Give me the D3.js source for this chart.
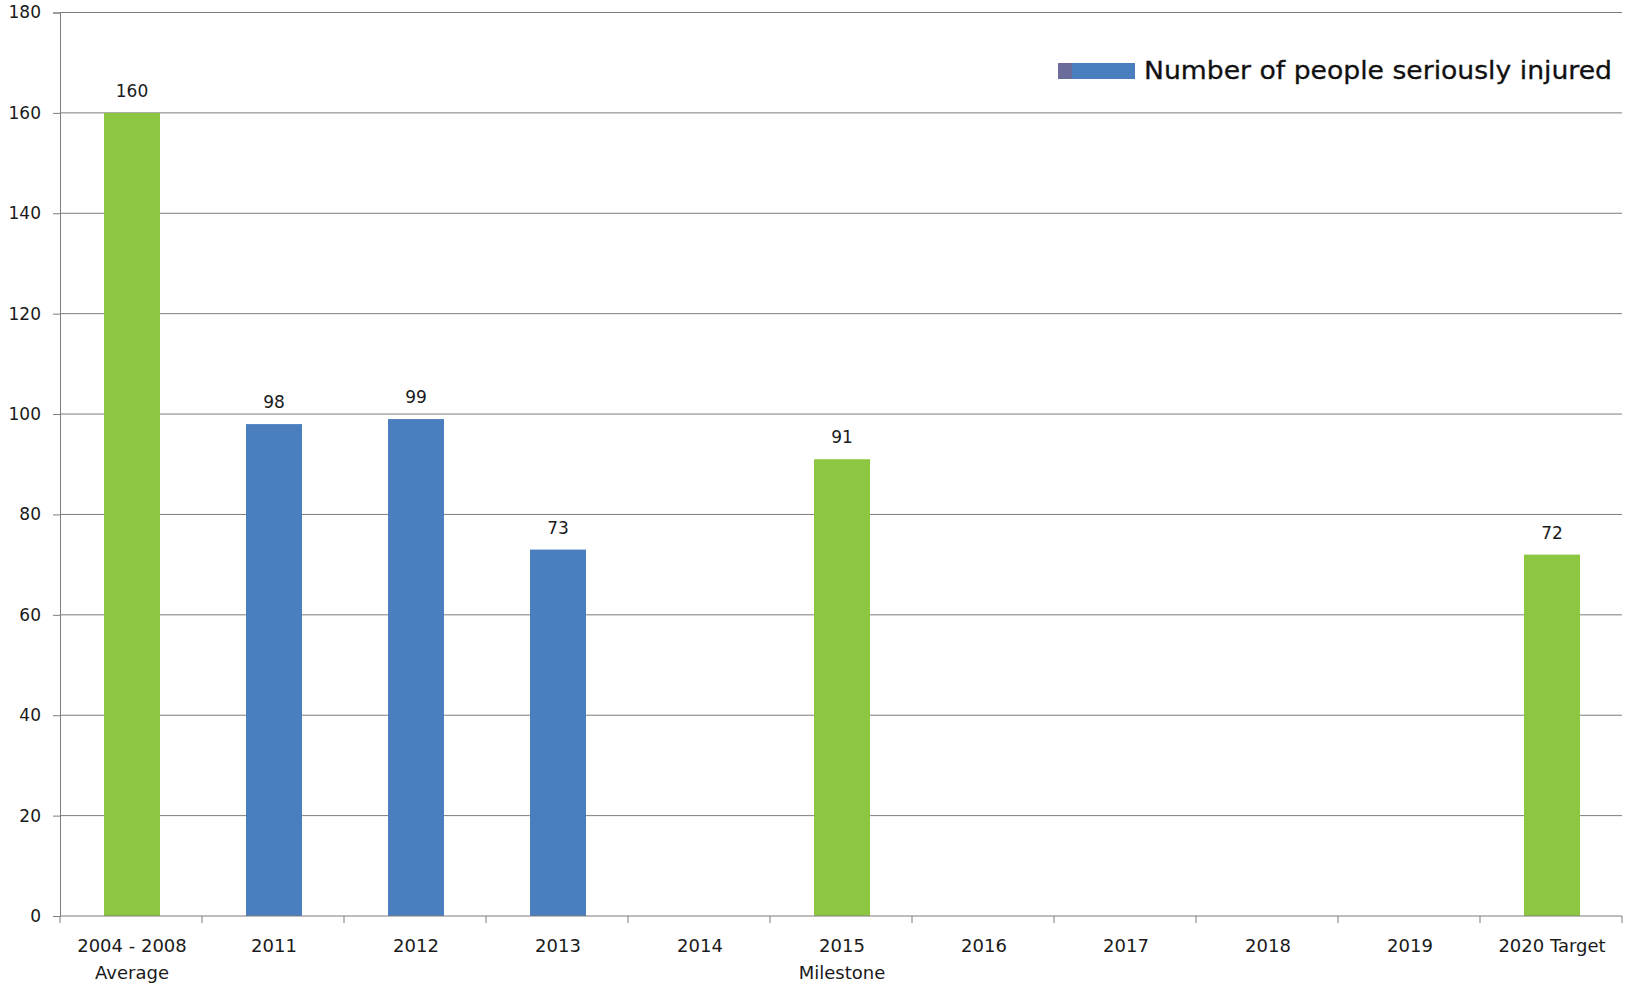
<!DOCTYPE html>
<html>
<head>
<meta charset="utf-8">
<script src="https://cdn.jsdelivr.net/npm/d3@7"></script>
<style>
  body { margin: 0; background: #fff; }
  svg text { font-family: "DejaVu Sans", sans-serif; fill: #1a1a1a; }
</style>
</head>
<body>
<svg id="chart"></svg>
<script>
(function () {
  'use strict';

  // chart data
  var categories = ['2004 - 2008\nAverage', '2011', '2012', '2013', '2014',
    '2015\nMilestone', '2016', '2017', '2018', '2019', '2020 Target'];
  var injured = [160, 98, 99, 73, null, 91, null, null, null, null, 72];
  var isGoal = [true, false, false, false, false, true, false, false, false, false, true];
  var yTicks = [0, 20, 40, 60, 80, 100, 120, 140, 160, 180];
  var legendLabel = 'Number of people seriously injured';

  var W = 1625;
  var H = 985;
  var margin = { top: 12.5, right: 3, bottom: 69, left: 60 };
  var width = W - margin.left - margin.right;
  var height = H - margin.top - margin.bottom;
  var green = '#8DC641';
  var blue = '#4A7EBE';
  var gray = '#7d7d7d';

  var svg = d3.select('#chart')
    .attr('width', W)
    .attr('height', H);

  var g = svg.append('g')
    .attr('transform', 'translate(' + margin.left + ',' + margin.top + ')');

  var xb = d3.scaleBand()
    .domain(categories)
    .range([0, width]);

  var y = d3.scaleLinear()
    .domain([0, 180])
    .range([height, 0]);

  // gridlines
  g.selectAll('.grid')
    .data(yTicks.filter(function (d) { return d > 0; }))
    .enter()
    .append('line')
    .attr('x1', 0)
    .attr('x2', width)
    .attr('y1', function (d) { return y(d); })
    .attr('y2', function (d) { return y(d); })
    .attr('stroke', gray)
    .attr('stroke-width', 1);

  // y axis
  var yAxis = g.append('g')
    .call(d3.axisLeft(y).tickValues(yTicks).tickSize(7).tickPadding(12));
  yAxis.select('.domain').attr('stroke', gray);
  yAxis.selectAll('.tick line').attr('stroke', gray);
  yAxis.selectAll('.tick text')
    .style('font-size', '17px')
    .style('font-family', '"DejaVu Sans", sans-serif')
    .attr('fill', '#1a1a1a');

  // bars
  var barData = categories.map(function (c, i) {
    return { cat: c, value: injured[i], goal: isGoal[i] };
  }).filter(function (d) { return d.value !== null; });

  g.selectAll('.bar')
    .data(barData)
    .enter()
    .append('rect')
    .attr('class', 'bar')
    .attr('x', function (d) { return xb(d.cat) + xb.bandwidth() / 2 - 27; })
    .attr('width', 56)
    .attr('y', function (d) { return y(d.value); })
    .attr('height', function (d) { return height - y(d.value); })
    .attr('fill', function (d) { return d.goal ? green : blue; });

  // value labels
  g.selectAll('.val')
    .data(barData)
    .enter()
    .append('text')
    .attr('x', function (d) { return xb(d.cat) + xb.bandwidth() / 2 + 1; })
    .attr('y', function (d) { return y(d.value) - 16; })
    .attr('text-anchor', 'middle')
    .style('font-size', '17px')
    .text(function (d) { return d.value; });

  // x axis (ticks at band boundaries)
  var xg = g.append('g')
    .attr('transform', 'translate(0,' + height + ')');
  xg.append('line')
    .attr('x1', 0).attr('x2', width)
    .attr('stroke', gray);
  xg.selectAll('.xt')
    .data(categories.concat(['end']))
    .enter()
    .append('line')
    .attr('x1', function (d, i) { return i * xb.bandwidth(); })
    .attr('x2', function (d, i) { return i * xb.bandwidth(); })
    .attr('y1', 0)
    .attr('y2', 7)
    .attr('stroke', gray);

  var xl = xg.selectAll('.xl')
    .data(categories)
    .enter()
    .append('text')
    .attr('text-anchor', 'middle')
    .attr('transform', function (d) {
      return 'translate(' + (xb(d) + xb.bandwidth() / 2 + 1) + ',0)';
    })
    .style('font-size', '18px');
  xl.selectAll('tspan')
    .data(function (d) { return d.split('\n'); })
    .enter()
    .append('tspan')
    .attr('x', 0)
    .attr('y', function (d, i) { return 36 + i * 27; })
    .text(function (d) { return d; });

  // legend
  var lg = svg.append('g')
    .attr('transform', 'translate(1058,63)');
  lg.append('rect')
    .attr('width', 77).attr('height', 16)
    .attr('fill', blue);
  lg.append('rect')
    .attr('width', 14).attr('height', 16)
    .attr('fill', '#6B6B9C');
  lg.append('text')
    .attr('x', 86)
    .attr('y', 16)
    .attr('textLength', 468)
    .attr('lengthAdjust', 'spacingAndGlyphs')
    .style('font-size', '24px')
    .style('fill', '#111')
    .style('stroke', '#111')
    .style('stroke-width', '0.3px')
    .text(legendLabel);
}());
</script>
</body>
</html>
